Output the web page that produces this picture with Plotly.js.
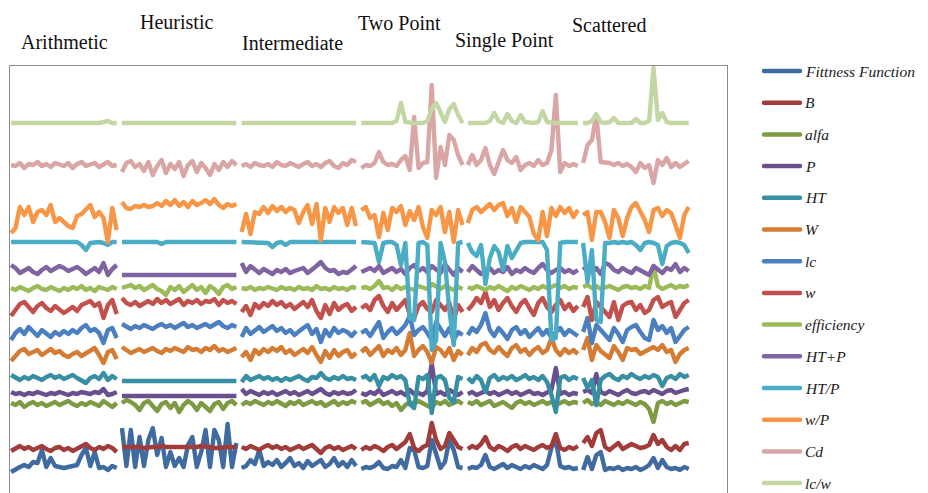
<!DOCTYPE html>
<html>
<head>
<meta charset="utf-8">
<script src="https://cdn.plot.ly/plotly-3.0.1.min.js"></script>
<style>
html,body{margin:0;padding:0;background:#fff;}
#chart{width:928px;height:493px;}
#chart path.js-line{stroke-linejoin:round !important;}
#chart .shapelayer path{stroke-linecap:round !important;}
</style>
</head>
<body>
<div id="chart"></div>
<script>
// ---- categories ----
const groupNames = ['Arithmetic', 'Heuristic', 'Intermediate', 'Two Point', 'Single Point', 'Scattered'];
const groupSizes = [25, 27, 27, 24, 26, 25];
const seriesNames = ['Fittness Function', 'B', 'alfa', 'P', 'HT', 'W', 'lc', 'w', 'efficiency', 'HT+P', 'HT/P', 'w/P', 'Cd', 'lc/w'];

// ---- series values (one sub-array per group) ----
const fitness = [
  [21,24,26,28,26,31,30,43,26,35,27,26,25,26,27,28,38,45,27,41,25,26,23,27,25],
  [65,27,63,26,56,27,53,65,38,55,26,41,27,35,26,48,56,26,41,63,26,63,53,26,69,26,50],
  [25,27,33,29,43,27,31,28,33,26,30,35,27,30,25,32,27,30,33,26,29,35,27,31,26,33,27],
  [24,26,25,27,31,25,24,27,26,33,25,45,43,26,25,27,53,38,25,31,53,43,26,25],
  [24,26,25,28,38,26,24,27,29,25,28,26,24,27,25,28,26,24,28,45,53,27,25,26,24,25],
  [23,36,24,38,41,23,25,24,26,23,25,24,26,23,25,28,35,25,33,26,24,25,23,26,24]
];
const B = [
  [42,45,47,44,46,43,45,47,44,42,45,46,43,45,42,44,47,49,45,43,46,44,47,45,41],
  [46,46,47,46,46,45,46,46,46,47,46,46,46,45,46,46,46,46,47,46,46,45,45,46,46,46,46],
  [46,44,47,45,43,46,48,45,47,44,46,43,45,47,44,46,48,44,40,45,47,44,46,43,45,47,44],
  [43,46,44,47,45,42,46,48,44,47,51,59,45,42,46,48,70,53,44,47,60,53,46,44],
  [44,47,45,49,56,46,43,47,45,42,46,48,44,47,45,43,46,48,45,47,59,45,43,46,44,47],
  [50,56,47,60,63,46,43,47,50,44,47,49,47,45,46,48,58,49,53,46,43,47,43,49,50]
];
const alfa = [
  [90,88,91,86,89,91,88,90,87,89,91,88,90,92,89,87,90,88,91,89,87,92,89,86,90],
  [90,93,91,88,83,90,92,87,82,89,91,85,90,81,88,92,89,83,90,86,82,89,91,84,90,92,88],
  [88,91,89,92,90,88,91,89,92,90,87,91,89,92,88,90,92,89,91,87,90,92,88,91,89,92,90],
  [90,92,88,91,93,89,91,87,90,83,88,91,89,92,90,88,85,91,89,92,88,90,92,89],
  [91,89,92,88,90,92,87,89,91,88,85,90,92,89,91,88,90,92,89,91,88,90,92,89,91,90],
  [90,93,89,91,88,92,90,88,91,89,92,90,88,91,89,84,71,90,92,89,91,88,90,92,91]
];
const P = [
  [101,99,100,98,100,99,101,99,98,100,99,101,100,98,100,99,101,100,99,101,100,104,98,99,101],
  [97,97,97,98,97,97,97,97,97,97,98,97,97,97,97,97,97,98,97,97,97,97,97,97,98,97,97],
  [104,99,102,100,98,101,99,101,98,100,102,99,101,98,100,102,99,101,104,100,98,101,99,101,99,100,103],
  [100,98,101,99,103,98,100,102,99,101,98,103,99,100,98,102,130,99,101,98,103,100,98,101],
  [99,101,98,100,102,99,101,98,100,102,99,101,98,100,102,99,100,98,101,103,125,99,101,98,100,99],
  [101,103,100,119,101,99,102,100,98,101,103,100,99,101,102,100,103,101,99,102,103,100,102,103,104]
];
const HT = [
  [118,115,113,116,114,117,115,113,116,118,115,117,114,116,118,115,113,110,115,117,114,120,113,117,114],
  [112,112,112,113,112,112,112,112,112,112,112,113,112,112,112,112,112,112,112,112,112,112,112,112,112,112,112],
  [111,117,113,115,117,114,116,113,115,112,115,113,115,117,114,112,116,115,120,115,113,116,114,117,114,115,113],
  [115,117,113,118,107,116,114,118,115,117,113,89,85,116,114,118,80,115,117,113,95,91,116,114],
  [115,111,117,113,101,115,118,113,116,114,117,113,115,118,114,116,113,117,111,98,81,115,117,113,116,114],
  [115,105,113,88,113,117,119,115,113,117,115,119,116,114,117,115,118,116,107,115,117,114,119,116,118]
];
const W = [
  [132,137,142,144,139,141,143,138,141,144,140,142,138,136,139,141,137,140,143,145,138,130,141,143,134],
  [146,143,140,142,144,141,143,145,142,140,144,142,145,143,141,146,143,144,141,145,143,147,142,144,141,143,145],
  [136,141,133,143,139,144,141,145,142,146,140,143,138,141,144,140,146,138,131,142,135,143,137,141,143,136,140],
  [141,145,138,143,147,137,143,140,145,138,143,160,137,143,147,141,130,146,143,137,145,133,142,138],
  [138,145,141,148,150,143,140,146,141,137,145,148,141,144,138,143,146,140,143,155,143,138,144,140,143,139],
  [143,155,133,148,142,138,135,147,141,133,145,143,144,139,141,143,146,143,148,141,143,131,139,143,145]
];
const lc = [
  [153,160,164,159,166,162,157,163,159,156,161,158,162,159,163,160,165,168,162,164,160,150,163,165,155],
  [169,166,164,167,165,168,166,164,167,169,166,168,165,167,170,166,168,165,167,169,166,168,171,167,165,168,166],
  [156,165,159,163,166,161,164,167,162,165,160,163,158,162,165,168,159,164,151,163,157,165,160,163,161,157,162],
  [160,163,157,165,171,155,161,165,159,163,168,177,158,163,166,160,153,171,163,157,165,153,161,158],
  [158,165,161,168,180,163,157,165,160,154,163,166,159,163,156,161,165,158,163,155,161,165,158,163,160,157],
  [161,175,150,168,163,158,153,165,159,151,163,166,168,161,155,153,173,163,167,160,165,151,157,163,166]
];
const w = [
  [177,183,189,191,186,181,187,190,185,182,187,184,180,183,186,182,188,190,192,187,190,175,188,193,179],
  [195,190,188,191,187,190,192,189,194,190,193,189,191,194,188,192,190,193,189,192,191,194,188,193,190,192,189],
  [181,187,178,189,185,190,187,192,188,191,186,189,184,188,191,186,193,182,175,188,179,190,183,187,189,182,186],
  [185,188,183,193,197,187,181,190,183,188,193,178,175,187,191,184,181,193,188,183,190,173,188,181],
  [183,188,195,190,201,186,193,183,190,195,187,181,189,193,185,178,190,195,186,181,188,193,184,189,182,187],
  [186,196,173,191,186,181,176,191,173,187,190,191,183,188,180,183,193,196,186,189,191,176,183,190,193]
];
const efficiency = [
  [205,203,206,204,202,205,207,204,203,206,204,202,205,203,206,204,207,203,205,202,206,204,203,206,204],
  [205,207,208,205,207,203,206,208,204,202,198,206,203,207,201,205,208,203,206,200,207,204,199,206,208,204,206],
  [205,204,206,203,205,204,206,205,203,206,204,205,203,206,204,205,203,207,204,205,203,206,204,205,203,206,205],
  [205,206,204,207,212,205,206,203,207,204,206,205,203,207,205,204,209,206,204,207,205,203,206,204],
  [206,204,207,205,203,206,204,207,205,202,206,204,207,205,203,206,204,207,205,206,208,205,207,204,206,205],
  [206,208,205,207,204,206,207,205,203,206,207,205,206,204,207,205,227,207,204,206,208,205,207,206,208]
];
const HTplusP = [
  [228,225,220,223,225,221,219,223,226,222,224,227,225,222,224,226,223,219,222,225,221,230,218,224,228],
  [218,218,218,218,218,219,218,218,218,218,218,218,218,218,218,218,218,218,218,219,218,218,218,218,218,218,218],
  [230,221,227,223,220,224,222,219,223,221,224,220,222,223,225,220,223,227,231,225,222,223,219,221,220,223,227],
  [221,223,225,222,227,220,223,225,221,224,219,225,228,222,225,221,227,223,220,229,223,218,225,221],
  [221,227,223,219,222,225,220,223,221,226,219,223,221,225,222,220,225,229,223,220,223,225,221,223,220,223],
  [223,227,221,225,219,230,228,223,221,225,222,220,225,223,221,218,227,223,220,225,223,229,221,225,222]
];
const HTperP = [
  [251,251,251,251,250,251,251,251,251,251,251,251,251,251,251,251,248,243,250,251,251,250,248,251,251],
  [251,251,251,251,251,251,251,251,251,249,251,251,251,251,251,251,251,251,251,251,251,251,251,251,251,251,251],
  [251,251,251,251,251,251,250,246,250,251,248,251,251,251,251,251,251,251,251,251,251,251,251,251,251,251,251],
  [251,251,251,250,231,250,251,251,248,228,250,175,173,250,251,248,143,153,250,231,183,148,250,251],
  [250,241,237,248,209,235,247,241,223,247,235,243,250,251,251,251,250,251,243,153,155,250,251,251,251,251],
  [250,211,243,173,171,250,250,251,250,251,250,251,248,243,250,251,250,248,229,247,250,251,250,248,240]
];
const wPerP = [
  [260,265,286,278,286,271,281,283,278,288,271,275,271,267,265,277,279,283,288,276,281,275,251,285,263],
  [291,285,284,287,286,288,286,287,290,287,292,288,293,287,291,286,292,288,290,293,289,294,288,285,289,287,289],
  [261,279,259,281,279,286,280,287,282,286,281,285,283,270,281,288,269,289,253,285,271,286,280,285,268,285,267],
  [283,286,275,278,256,280,263,285,281,287,268,282,273,286,266,255,283,278,286,261,281,251,283,268],
  [270,283,286,281,285,289,283,288,290,277,285,271,286,281,276,259,253,281,257,285,277,286,280,285,276,283],
  [278,281,253,281,281,271,255,283,275,257,275,286,290,281,273,261,283,285,277,283,280,268,255,278,286]
];
const Cd = [
  [328,327,330,325,329,328,331,327,329,326,330,328,327,330,325,329,331,327,328,330,326,329,331,327,328],
  [321,330,332,326,329,322,331,318,327,333,320,329,324,331,317,328,332,321,330,325,318,329,323,331,326,332,328],
  [327,329,326,330,328,327,329,326,331,328,327,330,328,326,329,331,327,329,326,330,332,327,325,330,328,333,331],
  [325,328,327,330,341,331,328,329,327,333,337,323,376,325,330,331,408,315,346,328,358,353,338,328],
  [328,338,328,333,345,328,319,331,343,333,330,336,323,328,330,327,333,328,330,343,398,321,330,327,329,327],
  [330,348,353,378,331,331,330,328,330,327,329,326,321,330,325,328,310,333,328,335,326,330,326,329,332]
];
const lcPerW = [
  [370,370,369,370,370,370,370,369,370,370,370,370,370,370,370,370,370,370,370,370,370,371,372,370,370],
  [370,370,370,370,370,370,370,370,370,370,370,370,370,370,370,370,370,370,370,370,370,370,370,370,370,370,370],
  [370,370,370,370,370,370,370,370,370,370,370,371,370,370,370,370,370,370,370,370,370,370,370,370,370,370,370],
  [370,370,370,370,370,370,370,370,372,390,371,370,370,370,370,372,384,390,380,371,384,389,378,370],
  [370,370,370,370,370,372,380,372,370,379,372,370,378,371,370,370,371,382,371,370,370,370,370,370,370,370],
  [370,370,372,379,371,370,371,375,370,370,370,370,374,370,370,372,425,373,380,371,370,370,370,370,370]
];

const seriesData = [fitness, B, alfa, P, HT, W, lc, w, efficiency, HTplusP, HTperP, wPerP, Cd, lcPerW];

// ---- styles ----
const seriesColors = ['#3f6ba0', '#a13c3a', '#7e9b44', '#6a4f8e', '#378fa3', '#d47c34', '#4b7fbf', '#c2504d',
                      '#9bbb59', '#8064a2', '#4bacc6', '#f79646', '#d9a6a5', '#c4d6a3'];

// x positions: each group on a run of consecutive indices, small break between groups
const gapUnits = 1.2;
const groupStarts = [];
(function () { let s = 0; groupSizes.forEach(n => { groupStarts.push(s); s += (n - 1) + gapUnits; }); })();

const traces = seriesData.map((groups, k) => {
  const x = [], y = [];
  groups.forEach((vals, g) => {
    vals.forEach((v, i) => { x.push(groupStarts[g] + i); y.push(v); });
    x.push(groupStarts[g] + vals.length - 1 + gapUnits / 2); y.push(null);
  });
  return {
    type: 'scatter', mode: 'lines', x: x, y: y, name: seriesNames[k],
    connectgaps: false, hoverinfo: 'skip', showlegend: false,
    line: {color: seriesColors[k], width: 4.4}
  };
});

// ---- layout ----
const W_PX = 928, H_PX = 493;
const M = {l: 10, r: 201, t: 66, b: 0};
const plotW = W_PX - M.l - M.r, plotH = H_PX - M.t - M.b;
const px2paperX = px => (px - M.l) / plotW;
const px2paperY = py => (H_PX - M.b - py) / plotH;

const titleFont = {family: 'Liberation Serif, Times New Roman, serif', size: 20, color: '#111'};
const titlePos = [[64, 42], [176, 22], [292.5, 43], [399.5, 23], [504, 41], [609, 25]];
const annotations = groupNames.map((t, g) => ({
  text: t, xref: 'paper', yref: 'paper', x: px2paperX(titlePos[g][0]), y: px2paperY(titlePos[g][1]),
  xanchor: 'center', yanchor: 'middle', showarrow: false, font: titleFont
}));

const shapes = [];
const legTop = 71, legStep = 31.7;
seriesNames.forEach((n, k) => {
  const py = legTop + k * legStep;
  shapes.push({type: 'line', xref: 'paper', yref: 'paper',
    x0: px2paperX(764), x1: px2paperX(800), y0: px2paperY(py), y1: px2paperY(py),
    line: {color: seriesColors[k], width: 4.5}});
  annotations.push({text: '<i>' + n + '</i>', xref: 'paper', yref: 'paper',
    x: px2paperX(803), y: px2paperY(py), xanchor: 'left', yanchor: 'middle', showarrow: false,
    font: {family: 'Liberation Serif, Times New Roman, serif', size: 15.5, color: '#1a1a1a'}});
});

const axisCommon = {showgrid: false, zeroline: false, showticklabels: false, ticks: '',
  showline: true, mirror: true, linecolor: '#8a8a8a', linewidth: 1, fixedrange: true};

const layout = {
  width: W_PX, height: H_PX, margin: M,
  paper_bgcolor: '#fff', plot_bgcolor: '#fff',
  showlegend: false,
  xaxis: Object.assign({range: [-0.25, 162.7]}, axisCommon),
  yaxis: Object.assign({range: [0, plotH]}, axisCommon),
  annotations: annotations, shapes: shapes
};

Plotly.newPlot('chart', traces, layout, {staticPlot: true, displayModeBar: false});
</script>
</body>
</html>
